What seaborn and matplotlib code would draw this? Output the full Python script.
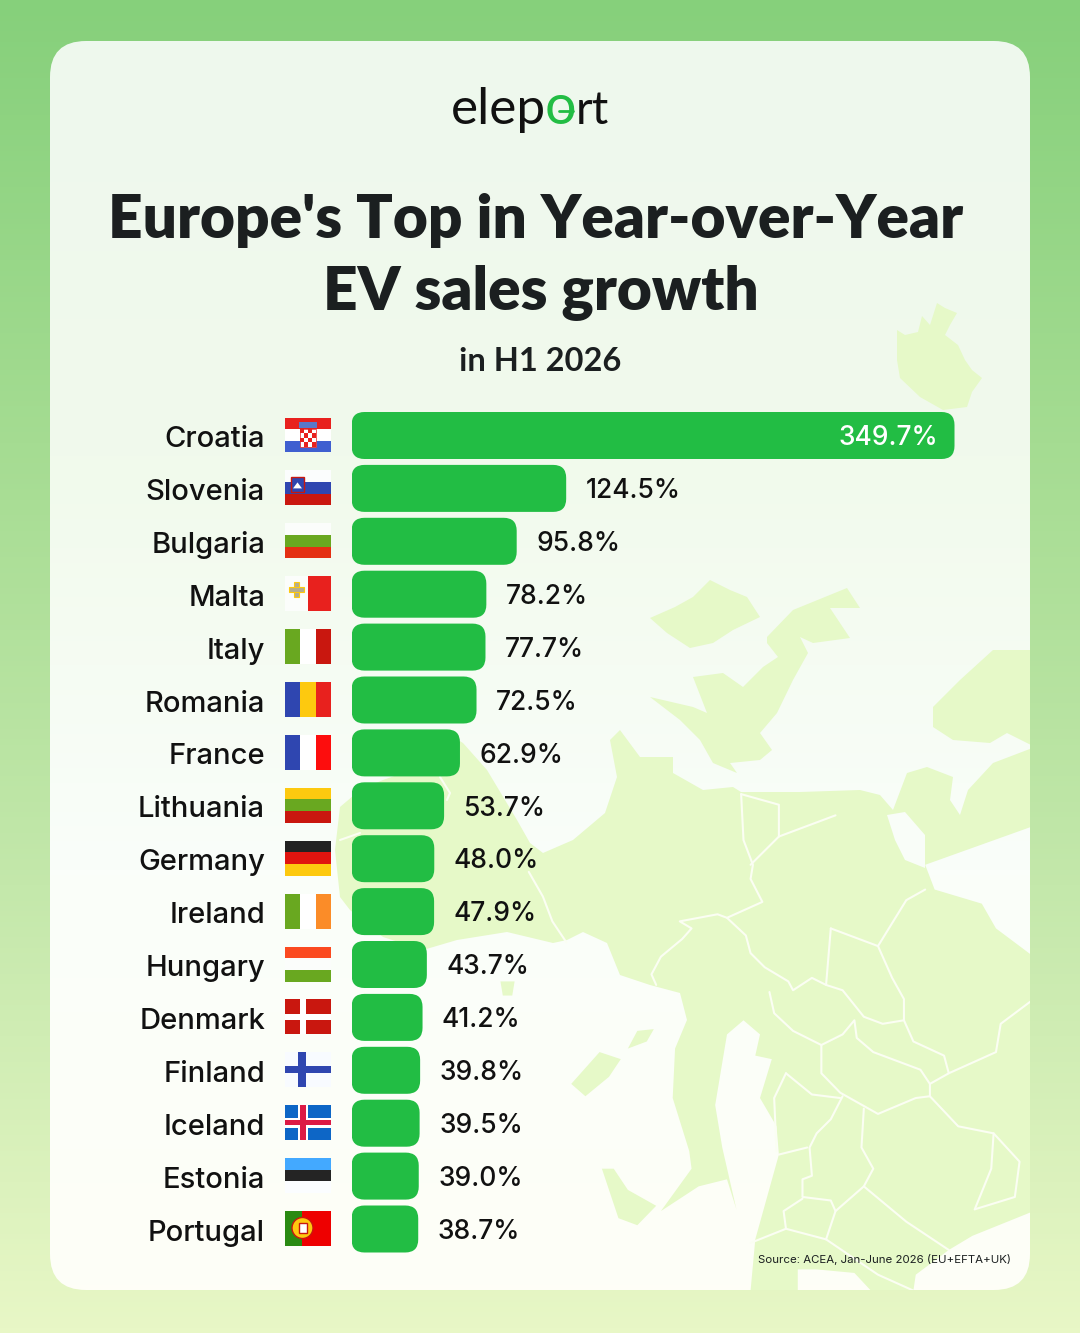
import numpy as np
import pandas as pd
import matplotlib.pyplot as plt
import seaborn as sns
from matplotlib.colors import LinearSegmentedColormap
from matplotlib.patches import Circle, FancyBboxPatch, Polygon, Rectangle
from matplotlib.transforms import ScaledTranslation

countries = ["Croatia", "Slovenia", "Bulgaria", "Malta", "Italy", "Romania", "France", "Lithuania",
             "Germany", "Ireland", "Hungary", "Denmark", "Finland", "Iceland", "Estonia", "Portugal"]
growth = [349.7, 124.5, 95.8, 78.2, 77.7, 72.5, 62.9, 53.7, 48.0, 47.9, 43.7, 41.2, 39.8, 39.5, 39.0, 38.7]

BAR = "#22bd44"
INK = "#1b1f20"
LAND = "#e6f9c8"
FONT = "Inter"
HEAD = "Lato"

RED, DRED, BLUE, GREEN, GOLD = "#e8211e", "#c9170f", "#2f46b0", "#69a820", "#fdc90f"
flag_stripes = {
    "Croatia": ("h", [RED, "#ffffff", "#3f5fd0"]),
    "Slovenia": ("h", ["#fbfdfd", BLUE, DRED]),
    "Bulgaria": ("h", ["#fbfdfb", GREEN, "#e42f12"]),
    "Malta": ("v", ["#fbfdfb", RED]),
    "Italy": ("v", [GREEN, "#ffffff", DRED]),
    "Romania": ("v", [BLUE, GOLD, RED]),
    "France": ("v", [BLUE, "#ffffff", "#fd0d0d"]),
    "Lithuania": ("h", [GOLD, GREEN, DRED]),
    "Germany": ("h", ["#222222", "#e0140f", GOLD]),
    "Ireland": ("v", [GREEN, "#ffffff", "#fb8c28"]),
    "Hungary": ("h", ["#fb4a20", "#fbfdfb", GREEN]),
    "Denmark": ("h", [DRED]),
    "Finland": ("h", ["#f8fbff"]),
    "Iceland": ("h", ["#0d66c6"]),
    "Estonia": ("h", ["#43a9ff", "#242424", "#fbfdff"]),
    "Portugal": ("v", ["#2a8a12", "#2a8a12", "#2a8a12", "#ee0000", "#ee0000", "#ee0000", "#ee0000", "#ee0000"]),
}

# rough map outlines, crop coordinates for the lower right and pixels for the rest
coast_south = [(735, 680), (710, 760), (705, 900), (740, 1050), (745, 1100), (680, 1220), (760, 1150), (820, 1130),
               (840, 1215), (810, 1040), (795, 920), (820, 720), (855, 680), (890, 720), (880, 780), (915, 790),
               (890, 900), (925, 980), (930, 1060), (880, 1300), (870, 1445), (970, 1445), (970, 1385), (1010, 1385),
               (1090, 1395), (1125, 1445), (1215, 1445), (1220, 1400), (1290, 1330), (1340, 1290), (1470, 1220),
               (1470, 500), (1390, 420), (1360, 350), (1260, 310), (1240, 240), (1470, 130)]
coast_north = [(1035, 747), (993, 763), (968, 790), (960, 815), (950, 800), (953, 777), (927, 767), (907, 773),
               (893, 810), (880, 795), (860, 790), (800, 792), (741, 792), (733, 787), (703, 790), (673, 773),
               (673, 757), (640, 757), (620, 730), (610, 740), (617, 777), (605, 813), (573, 840), (543, 853),
               (530, 843), (517, 820), (487, 770), (463, 743), (450, 735), (440, 760), (383, 780), (360, 790),
               (340, 807), (335, 850), (340, 897), (350, 910), (383, 937), (423, 950), (457, 940), (507, 932),
               (553, 943), (567, 940), (583, 932), (607, 943), (620, 975), (650, 985), (680, 993), (687, 1020)]
baltic_gap = [(887, 815), (905, 812), (925, 835), (925, 868), (905, 860), (895, 840)]
islands = [[(610, 760), (630, 710), (665, 705), (650, 740)],
           [(490, 860), (550, 770), (595, 790), (570, 840), (520, 895)],
           [(555, 1100), (580, 1100), (610, 1160), (670, 1205), (630, 1260), (590, 1240)],
           [(340, 570), (370, 570), (365, 610), (345, 610)]]
north_shapes = [[(897, 330), (905, 335), (918, 332), (922, 316), (930, 325), (937, 303), (945, 308), (957, 313),
                 (950, 325), (945, 335), (958, 345), (965, 360), (972, 370), (982, 378), (972, 392), (967, 407),
                 (943, 410), (920, 397), (900, 378), (897, 360)],
                [(650, 618), (675, 607), (693, 597), (710, 580), (730, 590), (747, 597), (760, 617), (733, 630),
                 (713, 643), (690, 648), (667, 633)],
                [(767, 637), (793, 610), (847, 588), (860, 608), (830, 608), (850, 638), (813, 643), (800, 637),
                 (808, 653), (793, 680), (777, 713), (760, 733), (772, 750), (760, 760), (730, 763), (737, 773),
                 (713, 763), (700, 740), (680, 720), (650, 697), (693, 707), (707, 713), (693, 677), (723, 673),
                 (743, 687), (763, 667), (778, 657), (767, 643)],
                [(933, 707), (960, 680), (993, 650), (1035, 650), (1035, 747), (1007, 733), (990, 743), (953, 740),
                 (933, 727)]]
borders = [[(850, 40), (855, 170), (875, 240), (870, 280), (895, 345), (820, 390), (800, 380), (720, 400), (745, 420),
            (725, 450), (680, 500), (660, 550), (670, 580)],
           [(400, 260), (430, 330), (450, 400), (480, 460)],
           [(820, 390), (860, 440), (870, 490), (900, 530), (950, 570), (960, 595), (1000, 560), (1030, 580),
            (1065, 595), (1110, 670), (1150, 690), (1195, 680)],
           [(1040, 420), (1030, 580)],
           [(1040, 420), (1140, 470), (1200, 340), (1240, 310)],
           [(1140, 470), (1170, 560), (1195, 620), (1195, 680), (1215, 740), (1280, 780), (1290, 830), (1390, 770),
            (1400, 690), (1470, 620)],
           [(910, 600), (920, 660), (960, 710), (1020, 750), (1065, 720), (1090, 680), (1095, 730), (1130, 770),
            (1230, 820), (1250, 860), (1290, 830)],
           [(1020, 750), (1020, 830), (1060, 885), (1140, 945), (1220, 900), (1250, 895), (1250, 860)],
           [(1250, 895), (1310, 980), (1385, 1000), (1440, 1080), (1430, 1180), (1345, 1215)],
           [(1385, 1000), (1380, 1100), (1345, 1215)],
           [(1110, 930), (1105, 1040), (1130, 1100), (1110, 1150), (1200, 1250), (1290, 1330)],
           [(1065, 895), (1040, 960), (1010, 1000), (995, 1040), (1000, 1120), (980, 1130), (980, 1180), (1040, 1190),
            (1050, 1220), (1110, 1150)],
           [(930, 1060), (990, 1040)],
           [(870, 1310), (945, 1270), (940, 1220), (980, 1185)],
           [(945, 1270), (1030, 1300), (1050, 1220)],
           [(1030, 1300), (1140, 1400), (1215, 1445)],
           [(945, 830), (920, 900), (925, 1050)],
           [(945, 830), (1000, 890), (1060, 900)],
           [(850, 40), (930, 70), (930, 160), (870, 240)],
           [(930, 160), (1050, 100)]]
border_px = [[(440, 777), (450, 793), (447, 800)], [(340, 840), (360, 833)]]


def z5(points):
    # crop coordinates to picture pixels
    return [(340 + x / 2.119, 780 + y / 2.83) for x, y in points]


def draw_flag(ax, name, x, y, w=46, h=35):
    kind, colors = flag_stripes[name]
    n = len(colors)
    for i, c in enumerate(colors):
        if kind == "h":
            ax.add_patch(Rectangle((x, y + i * h / n), w, h / n, fc=c, lw=0))
        else:
            ax.add_patch(Rectangle((x + i * w / n, y), w / n, h, fc=c, lw=0))
    if name == "Croatia":
        ax.add_patch(Rectangle((x + 15, y + 11), 16, 18, fc="#ffffff", ec=RED, lw=0.5))
        for r in range(4):
            for c in range(4):
                if (r + c) % 2 == 0:
                    ax.add_patch(Rectangle((x + 15 + c * 4, y + 11 + r * 4.5), 4, 4.5, fc=RED, lw=0))
        ax.add_patch(Rectangle((x + 14, y + 4.5), 18, 6, fc="#5b78c8", lw=0))
    elif name == "Slovenia":
        ax.add_patch(Rectangle((x + 6, y + 7), 13, 15, fc=BLUE, ec=DRED, lw=1))
        ax.add_patch(Polygon([(x + 8, y + 18), (x + 12.5, y + 12), (x + 17, y + 18)], fc="#ffffff", lw=0))
    elif name == "Malta":
        ax.add_patch(Rectangle((x + 9, y + 6), 5, 15, fc="#b5ad90", ec=GOLD, lw=0.8))
        ax.add_patch(Rectangle((x + 4, y + 11), 15, 5, fc="#b5ad90", ec=GOLD, lw=0.8))
    elif name == "Denmark":
        ax.add_patch(Rectangle((x + 15, y), 6, h, fc="#ffffff", lw=0))
        ax.add_patch(Rectangle((x, y + 14.5), w, 6, fc="#ffffff", lw=0))
    elif name == "Finland":
        ax.add_patch(Rectangle((x + 13, y), 8, h, fc=BLUE, lw=0))
        ax.add_patch(Rectangle((x, y + 14), w, 7, fc=BLUE, lw=0))
    elif name == "Iceland":
        ax.add_patch(Rectangle((x + 13, y), 10, h, fc="#ffffff", lw=0))
        ax.add_patch(Rectangle((x, y + 12.5), w, 10, fc="#ffffff", lw=0))
        ax.add_patch(Rectangle((x + 15, y), 6, h, fc="#dc1a45", lw=0))
        ax.add_patch(Rectangle((x, y + 15), w, 5, fc="#dc1a45", lw=0))
    elif name == "Portugal":
        ax.add_patch(Circle((x + 17.5, y + 17), 10.5, fc=GOLD, ec=DRED, lw=1))
        ax.add_patch(Rectangle((x + 13.5, y + 12), 8, 10, fc="#ffffff", ec=DRED, lw=1))


sns.set_theme(style="white")
plt.rcParams["font.family"] = [FONT, "DejaVu Sans"]

fig = plt.figure(figsize=(10.8, 13.33), dpi=100)

# full picture layer in pixel coordinates for the backdrop
bg = fig.add_axes([0, 0, 1, 1], zorder=0)
bg.axis("off")

outer = LinearSegmentedColormap.from_list("outer", ["#86d07b", "#a5dc92", "#c4e8ab", "#e8f7c6"])
inner = LinearSegmentedColormap.from_list("inner", ["#eef8ee", "#f1faec", "#fafefa", "#fefef7"])
ramp = np.linspace(0, 1, 256).reshape(-1, 1)
bg.imshow(ramp, cmap=outer, aspect="auto", extent=(0, 1080, 1333, 0), zorder=0)
card = FancyBboxPatch((50, 41), 980, 1249, boxstyle="round,pad=0,rounding_size=36", fc="none", lw=0, zorder=1)
bg.add_patch(card)
im = bg.imshow(ramp, cmap=inner, aspect="auto", extent=(50, 1030, 1290, 41), zorder=1)
im.set_clip_path(card)
bg.set_xlim(0, 1080)
bg.set_ylim(1333, 0)

main_land = z5(coast_south) + coast_north
for shape in north_shapes + [main_land] + [z5(s) for s in islands]:
    p = Polygon(shape, fc=LAND, lw=0, zorder=2)
    bg.add_patch(p)
    p.set_clip_path(card)
gap = Polygon(baltic_gap, fc="#f9fdf8", lw=0, zorder=2)
bg.add_patch(gap)
for pts in [np.array(z5(b)) for b in borders] + [np.array(b) for b in border_px]:
    l, = bg.plot(pts[:, 0], pts[:, 1], color="#fbfef3", lw=1.5, zorder=3, solid_joinstyle="round")
    l.set_clip_path(card)

# logo, title and notes
bg.text(546, 124, "elep", fontsize=37, family=HEAD, color="#111111", ha="right", va="baseline", zorder=5)
bg.text(545, 124, "o", fontsize=40, family=HEAD, color=BAR, ha="left", va="baseline", zorder=5)
bg.text(609, 124, "rt", fontsize=33, family=HEAD, color="#111111", ha="right", va="baseline", zorder=5)
bg.plot([559, 573], [111, 111], color=BAR, lw=2, zorder=6)
bg.text(536, 238, "Europe's Top in Year-over-Year", fontsize=43.5, family=HEAD, weight="heavy", color=INK, ha="center", va="baseline", zorder=5)
bg.text(541, 309, "EV sales growth", fontsize=43.5, family=HEAD, weight="heavy", color=INK, ha="center", va="baseline", zorder=5)
bg.text(540, 371, "in H1 2026", fontsize=23.5, family=HEAD, weight="bold", color=INK, ha="center", va="baseline", zorder=5)
bg.text(1011, 1263, "Source: ACEA, Jan-June 2026 (EU+EFTA+UK)", fontsize=8.25, color=INK, ha="right", va="baseline", zorder=5)

# chart, the axes span is chosen so one unit on x is 1.724 px and one row 52.9 px
row = 52.9
top = 435.5 - row / 2
bottom = top + row * len(countries)
ax = fig.add_axes([351.5 / 1080, 1 - bottom / 1333, 603 / 1080, (bottom - top) / 1333], zorder=2)
ax.patch.set_alpha(0)

df = pd.DataFrame({"country": countries, "growth": growth})
sns.barplot(data=df, x="growth", y="country", color=BAR, width=47 / row, saturation=1, ax=ax)
ax.set_xlim(0, 349.7)
ax.set_ylim(len(countries) - 0.5, -0.5)
ax.set_xlabel("")
ax.set_ylabel("")
ax.set_xticks([])
sns.despine(ax=ax, left=True, bottom=True)
ax.tick_params(axis="y", length=0, pad=62.2)
down = ScaledTranslation(0, -1 / 100, fig.dpi_scale_trans)
for tick in ax.get_yticklabels():
    tick.set_fontsize(21)
    tick.set_color("#111111")
    tick.set_fontweight("medium")
    tick.set_transform(tick.get_transform() + down)

# swap the square bars for rounded ones with the same extent
x_scale = 603 / 349.7
for bar in list(ax.patches):
    bx, by, bw, bh = bar.get_x(), bar.get_y(), bar.get_width(), bar.get_height()
    bar.set_visible(False)
    ax.add_patch(FancyBboxPatch((bx, by), bw, bh, boxstyle=f"round,pad=0,rounding_size={13 / x_scale}",
                                mutation_aspect=x_scale / row, fc=BAR, lw=0))

for i, v in enumerate(growth):
    if i == 0:
        ax.annotate(f"{v:.1f}%", (v, i), xytext=(-12, -1.5), textcoords="offset points", ha="right",
                    va="center", fontsize=19, color="#ffffff", fontweight="medium")
    else:
        ax.annotate(f"{v:.1f}%", (v, i), xytext=(14, -2), textcoords="offset points", ha="left",
                    va="center", fontsize=19, color="#111111", fontweight="medium")

for i, name in enumerate(countries):
    draw_flag(bg, name, 285, 435 + i * row - 17.5)

fig.savefig("out.png", dpi=100)
